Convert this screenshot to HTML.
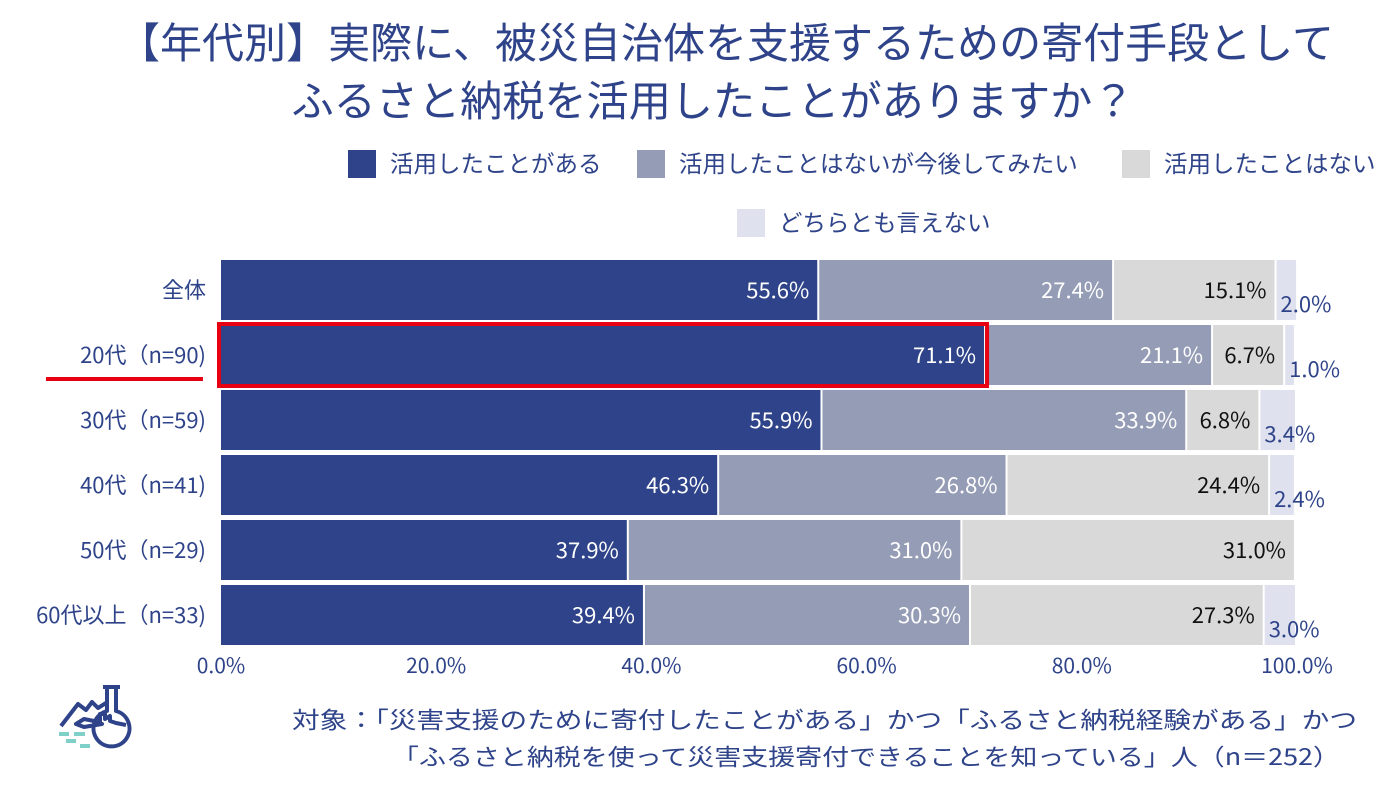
<!DOCTYPE html>
<html><head><meta charset="utf-8">
<style>
body{margin:0;background:#fff;width:1400px;height:795px;overflow:hidden;font-family:"Noto Sans CJK JP","Liberation Sans",sans-serif;}
svg text{font-family:"Noto Sans CJK JP","Liberation Sans",sans-serif;}
</style></head><body>
<svg id="chart" width="1400" height="795">
<text x="726" y="58" text-anchor="middle" font-size="42" fill="#2e4389" textLength="1216" lengthAdjust="spacingAndGlyphs">【年代別】実際に、被災自治体を支援するための寄付手段として</text>
<text x="713" y="116" text-anchor="middle" font-size="42" fill="#2e4389" textLength="843" lengthAdjust="spacingAndGlyphs">ふるさと納税を活用したことがありますか？</text>
<g id="legend"></g>
<g id="plot"></g>
<g id="xaxis"></g>
<g fill="none" stroke="#2e4389" stroke-width="4" stroke-linejoin="round" transform="translate(58,684)">
<path d="M45 3 H62 M49 3 V27 A18 18 0 1 0 58 27 V3"/>
<path d="M3 42 L20 20 L28 26 L34 18 L40 24 L48 19"/>
<path d="M18 40 L26 35 L36 37 L44 40 L26 43 Z"/>
<path d="M42 38 V30 H47 V35 L52 32 V37 L58 39 L68 41"/>
<path stroke="#7fd0c8" d="M1 50 H11 M16 50 H27 M8 57 H18 M22 62 H32"/>
</g>
<text x="1357" y="728" text-anchor="end" font-size="23" fill="#2e4389" textLength="1065" lengthAdjust="spacingAndGlyphs">対象：「災害支援のために寄付したことがある」かつ「ふるさと納税経験がある」かつ</text>
<text x="1340" y="765" text-anchor="end" font-size="23" fill="#2e4389" textLength="948" lengthAdjust="spacingAndGlyphs">「ふるさと納税を使って災害支援寄付できることを知っている」人（n＝252）</text>
</svg>
<script>
const categories=["全体","20代（n=90)","30代（n=59)","40代（n=41)","50代（n=29)","60代以上（n=33)"];
const usedValues=[55.6,71.1,55.9,46.3,37.9,39.4];
const wantValues=[27.4,21.1,33.9,26.8,31.0,30.3];
const notUsedValues=[15.1,6.7,6.8,24.4,31.0,27.3];
const neitherValues=[2.0,1.0,3.4,2.4,0,3.0];
const seriesNames=["活用したことがある","活用したことはないが今後してみたい","活用したことはない","どちらとも言えない"];
const xTicks=[0,20,40,60,80,100];
const NS="http://www.w3.org/2000/svg";
const colors=["#2e4389","#959cb5","#d9d9d9","#dfe1ee"];
const x0=221,x1=1297;
function xs(v){return x0+(x1-x0)*v/100;}
function ys(i){return 260+i*65;}
const bh=60;
function mk(tag,attrs,parent,txt){const e=document.createElementNS(NS,tag);for(const k in attrs)e.setAttribute(k,attrs[k]);if(txt!==undefined)e.textContent=txt;parent.appendChild(e);return e;}
const plot=document.getElementById('plot');
const series=[usedValues,wantValues,notUsedValues,neitherValues];
categories.forEach((c,i)=>{
  const y=ys(i);
  const lab=mk('text',{x:206,y:y+bh/2+8,'text-anchor':'end','font-size':22,fill:'#2e4389'},plot,c);
  
  
  let acc=0;
  series.forEach((s,k)=>{
    const v=s[i];
    if(v<=0){return;}
    const a=xs(acc),b=xs(acc+v);
    const r=mk('rect',{x:a,y:y,width:Math.max(0,b-a-2),height:bh,fill:colors[k]},plot);
    
    
    let t;
    if(k<3){
      t=mk('text',{x:b-10,y:y+bh/2+8,'text-anchor':'end','font-size':22,fill:k==2?'#111':'#fff'},plot,v.toFixed(1)+'%');
    }else{
      t=mk('text',{x:a+4,y:y+bh-8,'font-size':22,fill:'#2e4389'},plot,v.toFixed(1)+'%');
    }
    
    
    acc+=v;
  });
});
const hl=mk('rect',{x:219,y:ys(1)-1,width:xs(usedValues[1])-219+1,height:bh+2,fill:'none',stroke:'#e60012','stroke-width':4},plot);


const ul=mk('line',{x1:46,x2:203,y1:379,y2:379,stroke:'#e60012','stroke-width':4},plot);


const xa=document.getElementById('xaxis');
xTicks.forEach(v=>{
  const t=mk('text',{x:xs(v),y:673,'text-anchor':'middle','font-size':21,fill:'#2e4389'},xa,v.toFixed(1)+'%');
  
  
});
const lg=document.getElementById('legend');
const lpos=[[348,164],[637,164],[1122,164],[737,223]];
seriesNames.forEach((n,k)=>{
  const [lx,ly]=lpos[k];
  const r=mk('rect',{x:lx,y:ly-14,width:28,height:28,fill:colors[k]},lg);
  
  
  const t=mk('text',{x:lx+42,y:ly+8,'font-size':23.5,fill:'#2e4389'},lg,n);
  
  
});
</script>
</body></html>
